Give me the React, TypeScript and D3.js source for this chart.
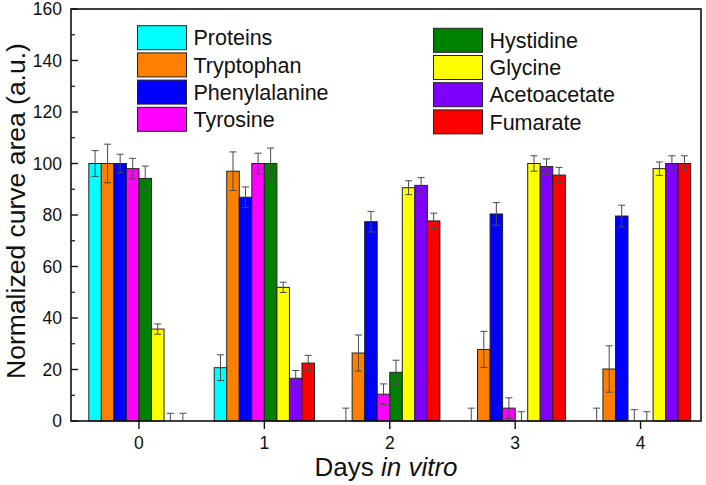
import React from "react";
import * as d3 from "d3";

const categories = [0, 1, 2, 3, 4];
const seriesNames = ["Proteins", "Tryptophan", "Phenylalanine", "Tyrosine", "Hystidine", "Glycine", "Acetoacetate", "Fumarate"];
const seriesColors = ["#00FFFF", "#FF8000", "#0000FF", "#FF00FF", "#008000", "#FFFF00", "#8000FF", "#FF0000"];
const proteins = [100, 20.7, 0, 0, 0];
const proteinsErr = [5, 5, 5, 5, 5];
const tryptophan = [100, 97, 26.4, 27.8, 20.2];
const tryptophanErr = [7.5, 7.5, 7, 7, 9];
const phenylalanine = [100, 86.9, 77.4, 80.4, 79.6];
const phenylalanineErr = [3.6, 4, 4, 4.4, 4.2];
const tyrosine = [98, 100, 10.4, 5, 0];
const tyrosineErr = [4, 4, 4, 4, 4.4];
const hystidine = [94.2, 100, 18.9, 0, 0];
const hystidineErr = [4.8, 6, 4.7, 3.6, 3.6];
const glycine = [35.7, 51.9, 90.6, 100, 98];
const glycineErr = [2, 2, 2.7, 3, 2.6];
const acetoacetate = [0, 16.6, 91.5, 98.8, 100];
const acetoacetateErr = [3, 3, 3, 3, 3];
const fumarate = [0, 22.5, 77.7, 95.5, 100];
const fumarateErr = [3, 3, 3, 3, 3];
const yTicks = [0, 20, 40, 60, 80, 100, 120, 140, 160];
const yMinorTicks = [10, 30, 50, 70, 90, 110, 130, 150];

const seriesValues = [proteins, tryptophan, phenylalanine, tyrosine, hystidine, glycine, acetoacetate, fumarate];
const seriesErrs = [proteinsErr, tryptophanErr, phenylalanineErr, tyrosineErr, hystidineErr, glycineErr, acetoacetateErr, fumarateErr];

const FONT = "'Liberation Sans', Arial, Helvetica, sans-serif";

export default function App() {
  const W = 706, H = 485;
  const left = 71, right = 701, top = 9, bottom = 421;
  const x = d3.scaleLinear().domain([-0.542, 4.482]).range([left, right]);
  const y = d3.scaleLinear().domain([0, 160]).range([bottom, top]);
  const barW = 0.1;
  const capHalf = 3.5;

  const bars: any[] = [];
  const errs: any[] = [];
  seriesNames.forEach((name, si) => {
    categories.forEach((c, ci) => {
      const v = seriesValues[si][ci];
      const e = seriesErrs[si][ci];
      const x0 = x(c - 0.4 + si * barW);
      const x1 = x(c - 0.4 + (si + 1) * barW);
      const cx = (x0 + x1) / 2;
      if (v > 0) {
        bars.push(
          <rect key={`b${si}-${ci}`} x={x0} y={y(v)} width={x1 - x0} height={y(0) - y(v)}
            fill={seriesColors[si]} stroke="#222" strokeWidth={1} />
        );
      }
      const yt = y(v + e);
      const yb = y(Math.max(v - e, 0));
      errs.push(
        <g key={`e${si}-${ci}`} stroke="#4a4a4a" strokeWidth={1}>
          <line x1={cx} x2={cx} y1={yt} y2={yb} />
          <line x1={cx - capHalf} x2={cx + capHalf} y1={yt} y2={yt} />
          {v - e > 0 && <line x1={cx - capHalf} x2={cx + capHalf} y1={yb} y2={yb} />}
        </g>
      );
    });
  });

  const legendLeft = seriesNames.slice(0, 4).map((n, i) => ({ n, i, col: 0 }));
  const legendRight = seriesNames.slice(4).map((n, i) => ({ n, i: i + 4, col: 1 }));

  return (
    <svg width={W} height={H} style={{ position: "absolute", left: 0, top: 0, background: "#fff" }} fontFamily={FONT}>
      <rect x={0} y={0} width={W} height={H} fill="#fff" />
      {bars}
      {errs}
      {/* frame */}
      <rect x={left} y={top} width={right - left} height={bottom - top} fill="none" stroke="#111" strokeWidth={1.6} />
      {/* y ticks */}
      {yTicks.map((t) => (
        <g key={`yt${t}`}>
          <line x1={left} x2={left + 7} y1={y(t)} y2={y(t)} stroke="#111" strokeWidth={1.4} />
          <text x={62} y={y(t)} dy="0.36em" textAnchor="end" fontSize={17.5} fill="#111">{t}</text>
        </g>
      ))}
      {yMinorTicks.map((t) => (
        <line key={`ym${t}`} x1={left} x2={left + 4} y1={y(t)} y2={y(t)} stroke="#111" strokeWidth={1.2} />
      ))}
      {/* x ticks */}
      {categories.map((c) => (
        <g key={`xt${c}`}>
          <line x1={x(c)} x2={x(c)} y1={bottom} y2={bottom + 8} stroke="#111" strokeWidth={1.4} />
          <text x={x(c)} y={449} textAnchor="middle" fontSize={17.5} fill="#111">{c}</text>
        </g>
      ))}
      {/* axis titles */}
      <text x={(left + right) / 2 + 0} y={476} textAnchor="middle" fontSize={26} fill="#111">
        Days <tspan fontStyle="italic">in vitro</tspan>
      </text>
      <text transform={`translate(25,211) rotate(-90)`} textAnchor="middle" fontSize={26.5} fill="#111">
        Normalized curve area (a.u.)
      </text>
      {/* legend */}
      {[...legendLeft, ...legendRight].map((d) => {
        const sx = d.col === 0 ? 137.5 : 433.5;
        const sy = (d.col === 0 ? 25.7 : 28.3) + (d.i % 4) * 27.2;
        return (
          <g key={`lg${d.i}`}>
            <rect x={sx} y={sy} width={49} height={24} fill={seriesColors[d.i]} stroke="#222" strokeWidth={1} />
            <text x={sx + 56} y={sy + 12} dy="0.36em" fontSize={21.5} fill="#111">{d.n}</text>
          </g>
        );
      })}
    </svg>
  );
}
